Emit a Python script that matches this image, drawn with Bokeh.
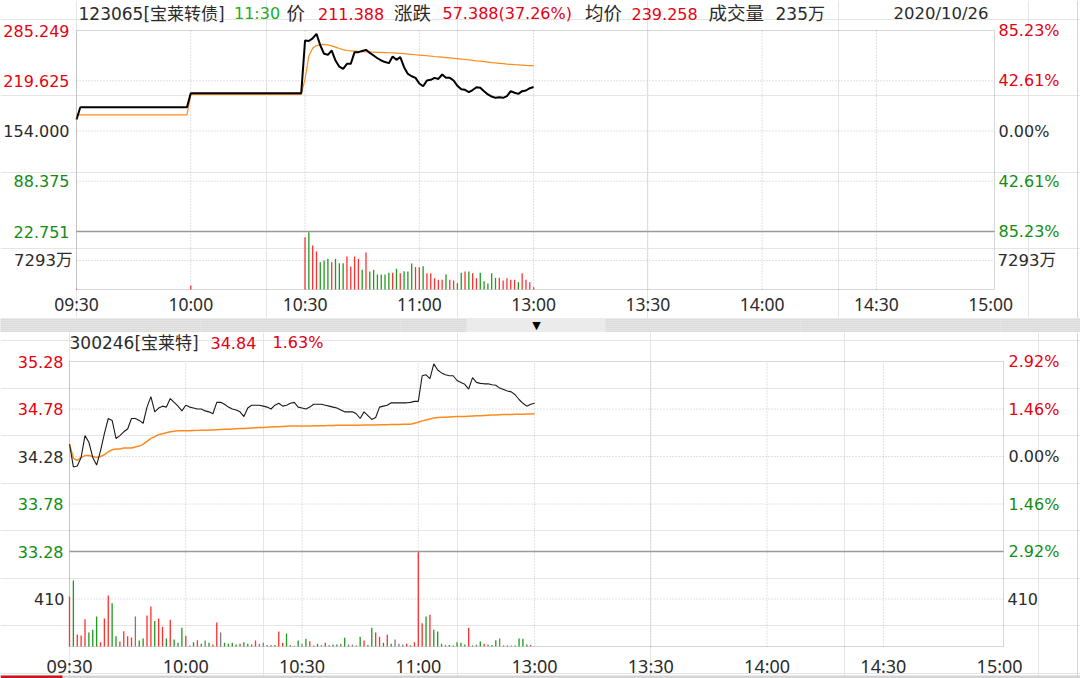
from bokeh.plotting import figure
from bokeh.models import Range1d, Span, Label, BoxAnnotation, ColumnDataSource
from bokeh.layouts import column
from bokeh.embed import file_html
from bokeh.resources import INLINE

# ---------------- data ----------------
time_labels = ["09:30", "10:00", "10:30", "11:00", "13:00", "13:30", "14:00", "14:30", "15:00"]
tick_minutes = [0, 30, 60, 90, 120, 150, 180, 210, 240]
grid_minutes = [30, 60, 90, 120, 150, 180, 210]
session_slots = 241

# convertible bond 123065
bond_code = "123065"
bond_name = "宝莱转债"
quote_time = "11:30"
bond_last = "211.388"
bond_change = "57.388(37.26%)"
bond_avg_last = "239.258"
bond_volume_total = "235万"
trade_date = "2020/10/26"
bond_prev_close = 154.000
bond_levels = [285.249, 219.625, 154.000, 88.375, 22.751]
bond_pcts = ["85.23%", "42.61%", "0.00%", "42.61%", "85.23%"]
bond_vol_tick = 7293
bond_vol_tick_label = "7293万"

bond_price = [
    169.0, 185.0, 185.0, 185.0, 185.0, 185.0, 185.0, 185.0, 185.0, 185.0,
    185.0, 185.0, 185.0, 185.0, 185.0, 185.0, 185.0, 185.0, 185.0, 185.0,
    185.0, 185.0, 185.0, 185.0, 185.0, 185.0, 185.0, 185.0, 185.0, 185.0,
    203.4, 203.4, 203.4, 203.4, 203.4, 203.4, 203.4, 203.4, 203.4, 203.4,
    203.4, 203.4, 203.4, 203.4, 203.4, 203.4, 203.4, 203.4, 203.4, 203.4,
    203.4, 203.4, 203.4, 203.4, 203.4, 203.4, 203.4, 203.4, 203.4, 203.4,
    272.2, 271.5, 275.0, 280.9, 266.0, 254.8, 253.5, 259.1, 246.0, 238.0,
    235.2, 241.7, 241.7, 257.0, 257.0, 258.5, 260.0, 256.0, 252.6, 249.0,
    246.1, 244.0, 242.6, 251.3, 246.9, 250.4, 237.4, 228.5, 225.5, 223.4,
    216.0, 212.5, 220.0, 220.8, 223.4, 222.0, 227.8, 223.4, 223.4, 220.0,
    213.0, 208.5, 207.8, 204.7, 207.5, 211.2, 210.5, 206.0, 201.7, 199.0,
    197.3, 198.0, 197.3, 199.5, 206.0, 204.0, 202.5, 206.0, 206.9, 209.9,
    211.388,
]
bond_avg = [
    175.0, 175.0, 175.0, 175.0, 175.0, 175.0, 175.0, 175.0, 175.0, 175.0,
    175.0, 175.0, 175.0, 175.0, 175.0, 175.0, 175.0, 175.0, 175.0, 175.0,
    175.0, 175.0, 175.0, 175.0, 175.0, 175.0, 175.0, 175.0, 175.0, 175.0,
    201.7, 201.7, 201.7, 201.7, 201.7, 201.7, 201.7, 201.7, 201.7, 201.7,
    201.7, 201.7, 201.7, 201.7, 201.7, 201.7, 201.7, 201.7, 201.7, 201.7,
    201.7, 201.7, 201.7, 201.7, 201.7, 201.7, 201.7, 201.7, 201.7, 201.7,
    222.0, 252.0, 262.0, 265.6, 266.8, 267.0, 266.4, 265.2, 263.5, 261.8,
    260.3, 259.1, 258.7, 258.3, 257.9, 257.6, 257.4, 257.2, 257.0, 256.8,
    256.6, 256.4, 256.2, 256.1, 255.8, 255.4, 255.0, 254.5, 254.0, 253.6,
    253.2, 252.7, 252.3, 251.8, 251.3, 250.9, 250.4, 249.9, 249.4, 248.9,
    248.4, 247.9, 247.4, 246.8, 246.3, 245.7, 245.2, 244.6, 244.0, 243.4,
    242.9, 242.4, 241.9, 241.4, 241.0, 240.6, 240.3, 240.0, 239.7, 239.5,
    239.258,
]
bond_vol = [
    200, 0, 0, 0, 0, 0, 0, 0, 0, 0,
    0, 0, 0, 0, 0, 0, 0, 0, 0, 0,
    0, 0, 0, 0, 0, 0, 0, 0, 0, 0,
    1000, 0, 0, 0, 0, 0, 0, 0, 0, 0,
    0, 0, 0, 0, 0, 0, 0, 0, 0, 0,
    0, 0, 0, 0, 0, 0, 0, 0, 0, 0,
    13150, 14400, 11070, 9560, 6870, 7290, 7710, 6870, 7710, 6620,
    6620, 8300, 5780, 8300, 7710, 4950, 9300, 4530, 4950, 3770,
    3770, 3770, 4190, 4190, 5200, 4110, 4610, 4530, 6540, 5620,
    5620, 5870, 4110, 4110, 2850, 2430, 2430, 3770, 2430, 2260,
    1590, 4190, 4530, 4530, 4110, 2850, 4190, 2100, 1510, 4110,
    2930, 2930, 2260, 2850, 2430, 2430, 1840, 4110, 2430, 1840,
    590,
]
bond_vol_dir = [
    "rnnnnnnnnn", "nnnnnnnnnn", "nnnnnnnnnn",
    "rnnnnnnnnn", "nnnnnnnnnn", "nnnnnnnnnn",
    "rgrrgggrgg", "grrrrgrggg", "gggrgrgggr",
    "rgrrrrrgrr", "ggrgrrgggg", "grrrrrgrrr", "r",
]

# stock 300246
stock_code = "300246"
stock_name = "宝莱特"
stock_last = "34.84"
stock_pct = "1.63%"
stock_prev_close = 34.28
stock_levels = [35.28, 34.78, 34.28, 33.78, 33.28]
stock_pcts = ["2.92%", "1.46%", "0.00%", "1.46%", "2.92%"]
stock_vol_tick = 410
stock_vol_tick_label = "410"

stock_price = [
    34.41, 34.17, 34.18, 34.27, 34.50, 34.43, 34.27, 34.19, 34.34, 34.52,
    34.68, 34.66, 34.47, 34.50, 34.54, 34.57, 34.68, 34.68, 34.66, 34.63,
    34.80, 34.91, 34.75, 34.79, 34.81, 34.80, 34.89, 34.85, 34.81, 34.76,
    34.82, 34.80, 34.79, 34.78, 34.78, 34.76, 34.75, 34.73, 34.85, 34.85,
    34.83, 34.80, 34.78, 34.77, 34.75, 34.70, 34.79, 34.82, 34.82, 34.82,
    34.81, 34.80, 34.78, 34.82, 34.84, 34.81, 34.82, 34.84, 34.85, 34.80,
    34.79, 34.78, 34.80, 34.83, 34.83, 34.83, 34.82, 34.81, 34.80, 34.79,
    34.77, 34.75, 34.75, 34.75, 34.73, 34.68, 34.75, 34.71, 34.67, 34.69,
    34.80, 34.81, 34.82, 34.845, 34.845, 34.845, 34.845, 34.845, 34.85, 34.86,
    34.86, 35.13, 35.14, 35.10, 35.255, 35.19, 35.16, 35.14, 35.13, 35.13,
    35.08, 35.06, 35.04, 34.99, 35.11, 35.06, 35.05, 35.045, 35.045, 35.035,
    35.03, 35.00, 34.985, 34.97, 34.96, 34.93, 34.88, 34.84, 34.81, 34.83,
    34.84,
]
stock_avg = [
    34.41, 34.26, 34.24, 34.27, 34.29, 34.29, 34.28, 34.27, 34.28, 34.30,
    34.33, 34.35, 34.36, 34.36, 34.37, 34.37, 34.37, 34.38, 34.39, 34.41,
    34.44, 34.47, 34.49, 34.51, 34.52, 34.53, 34.54, 34.545, 34.55, 34.55,
    34.55, 34.552, 34.554, 34.555, 34.556, 34.557, 34.558, 34.56, 34.562, 34.564,
    34.566, 34.568, 34.57, 34.572, 34.574, 34.576, 34.578, 34.58, 34.582, 34.584,
    34.586, 34.588, 34.59, 34.592, 34.594, 34.596, 34.598, 34.60, 34.60, 34.60,
    34.601, 34.602, 34.602, 34.603, 34.604, 34.605, 34.605, 34.606, 34.607, 34.608,
    34.608, 34.609, 34.61, 34.61, 34.61, 34.61, 34.611, 34.611, 34.612, 34.612,
    34.613, 34.614, 34.615, 34.616, 34.617, 34.618, 34.619, 34.62, 34.62, 34.63,
    34.64, 34.655, 34.665, 34.675, 34.685, 34.69, 34.692, 34.694, 34.696, 34.698,
    34.70, 34.701, 34.702, 34.704, 34.706, 34.708, 34.71, 34.712, 34.714, 34.716,
    34.718, 34.72, 34.721, 34.722, 34.723, 34.724, 34.725, 34.726, 34.727, 34.728,
    34.73,
]
stock_vol = [
    431, 570, 104, 95, 236, 121, 144, 259, 37, 242,
    440, 374, 89, 43, 132, 89, 78, 259, 52, 69,
    268, 345, 221, 242, 170, 69, 230, 60, 32, 161,
    92, 9, 37, 55, 23, 52, 32, 17, 207, 121,
    32, 23, 32, 17, 23, 37, 23, 17, 52, 23,
    32, 12, 12, 14, 129, 32, 112, 12, 6, 52,
    23, 66, 46, 9, 23, 12, 32, 12, 17, 17,
    23, 75, 17, 17, 9, 84, 52, 12, 161, 121,
    84, 32, 101, 23, 60, 23, 17, 23, 12, 37,
    814, 201, 259, 273, 144, 129, 23, 14, 14, 9,
    37, 32, 17, 161, 9, 17, 43, 23, 17, 14,
    55, 69, 9, 9, 9, 9, 69, 66, 17, 12,
]
stock_vol_dir = [
    "rgrrrgggrr", "rggrrrrngg", "rrgrrgrggg", "rrgrgngrrn",
    "ggggrggrrn", "nnngrrggng", "ngrngnrngg", "ngnnggrggr",
    "rgrgnnnrnr", "rrgrgggngg", "gggrgngrng", "gnggnggggr",
]

# ---------------- style ----------------
RED = "#e60012"
GREEN = "#128c12"
DARK = "#2b2b2b"
HEAD_GREEN = "#1fae1f"
ORANGE = "#ff8a1c"
GRID_C = "#c4c4c4"
FRAME_C = "#7a7a7a"
BAR_COLORS = {"r": "#ff3030", "g": "#1f9a1f", "n": "#7c7c7c"}
FONT = "DejaVu Sans, Noto Sans CJK SC"
AXFONT = "Noto Sans"
PAGE_W = 1080


def level_color(v, base):
    if abs(v - base) < 1e-9:
        return DARK
    return RED if v > base else GREEN


class Panel:
    """A full-canvas figure whose scales are chosen so the plot box sits at given page pixels."""

    def __init__(self, page_top, height, box, levels, vol_tick):
        self.page_top, self.height = page_top, height
        self.left, self.right, self.top, self.split, self.bottom = box
        self.levels, self.vol_tick = levels, vol_tick
        x_range = Range1d(self.xv(0), self.xv(PAGE_W))
        y_range = Range1d(self.pv(page_top + height), self.pv(page_top))
        self.p = figure(width=PAGE_W, height=height, x_range=x_range, y_range=y_range,
                        min_border=0, toolbar_location=None, output_backend="svg",
                        x_axis_location=None, y_axis_location=None)
        self.p.extra_y_ranges = {"vol": Range1d(self.vv(page_top + height), self.vv(page_top))}
        self.p.outline_line_color = None
        self.p.background_fill_color = "white"
        self.p.border_fill_color = "white"

    # page pixel -> data value
    def xv(self, px):
        return (px - self.left) * session_slots / (self.right - self.left)

    def pv(self, py):
        a, b = self.levels[0], self.levels[-1]
        return a - (py - self.top) * (a - b) / (self.split - self.top)

    def vv(self, py):
        return (self.bottom - py) * 2 * self.vol_tick / (self.bottom - self.split)

    def label(self, x, y, text, color, size="16px", align="left", rng="default", font=FONT):
        self.p.add_layout(Label(x=x, y=y, text=text, text_color=color, text_font=font,
                                text_font_size=size, text_align=align,
                                text_baseline="middle", y_range_name=rng))

    def frame(self):
        p = self.p
        y_low = self.pv(self.bottom)
        top = self.levels[0]
        n = len(grid_minutes)
        p.segment(x0=grid_minutes, x1=grid_minutes, y0=[y_low] * n, y1=[top] * n,
                  line_color=GRID_C, line_dash="1 2", line_width=1)
        mids = self.levels[1:4]
        p.segment(x0=[0] * len(mids), x1=[session_slots] * len(mids), y0=mids, y1=mids,
                  line_color=GRID_C, line_dash="1 2", line_width=1)
        p.segment(x0=[0], x1=[session_slots], y0=[self.vol_tick], y1=[self.vol_tick],
                  line_color=GRID_C, line_dash="1 2", line_width=1, y_range_name="vol")
        p.segment(x0=[0], x1=[session_slots], y0=[self.levels[-1]], y1=[self.levels[-1]],
                  line_color="#9a9a9a", line_width=1.6)
        p.add_layout(BoxAnnotation(left=0, right=session_slots, bottom=y_low, top=top,
                                   fill_color=None, fill_alpha=0, line_color=FRAME_C,
                                   line_width=1))


minutes = list(range(len(bond_price)))

# ---------------- top panel ----------------
T = Panel(0, 318, (76, 994, 30, 231, 289), bond_levels, bond_vol_tick)
p1 = T.p
T.frame()
src1 = ColumnDataSource(dict(t=minutes, price=bond_price, avg=bond_avg, vol=bond_vol,
                             color=[BAR_COLORS[d] for d in "".join(bond_vol_dir)]))
p1.vbar(x="t", top="vol", width=0.34, fill_color="color", line_color=None,
        source=src1, y_range_name="vol")
p1.line("t", "avg", source=src1, line_color=ORANGE, line_width=1.2)
p1.line("t", "price", source=src1, line_color="black", line_width=2)

for lv, pct in zip(bond_levels, bond_pcts):
    c = level_color(lv, bond_prev_close)
    T.label(T.xv(69), lv, f"{lv:.3f}", c, align="right")
    T.label(T.xv(998), lv, pct, c, align="left")
T.label(T.xv(72), bond_vol_tick, bond_vol_tick_label, DARK, size="16.5px", align="right", rng="vol")
T.label(T.xv(997), bond_vol_tick, bond_vol_tick_label, DARK, size="16.5px", align="left", rng="vol")
for t, lab in zip(tick_minutes, time_labels):
    T.label(t, T.pv(303.5), lab, DARK, size="17.5px", align="center", font=AXFONT)

header1 = [
    (f"{bond_code}[{bond_name}]", DARK, 78, "17px"),
    (quote_time, HEAD_GREEN, 233.5, "16px"),
    ("价", DARK, 286, "18.5px"),
    (bond_last, RED, 317.5, "16px"),
    ("涨跌", DARK, 393.5, "18.5px"),
    (bond_change, RED, 442, "16px"),
    ("均价", DARK, 584.5, "18.5px"),
    (bond_avg_last, RED, 631, "16px"),
    ("成交量", DARK, 708, "18.5px"),
    (bond_volume_total, DARK, 775, "17px"),
    (trade_date, DARK, 893, "16.5px"),
]
for txt, col, px, sz in header1:
    T.label(T.xv(px), T.pv(13), txt, col, size=sz)
p1.add_layout(Span(location=T.xv(1077), dimension="height", line_color="#d6d6d6", line_width=1))

# ---------------- separator ----------------
sep = figure(width=PAGE_W, height=14, x_range=Range1d(0, PAGE_W), y_range=Range1d(0, 14),
             min_border=0, toolbar_location=None, output_backend="svg",
             x_axis_location=None, y_axis_location=None)
sep.background_fill_color = "#dadada"
sep.border_fill_color = "#dadada"
sep.outline_line_color = None
sep.add_layout(BoxAnnotation(left=466, right=605, bottom=0, top=14, fill_color="#ebebeb",
                             fill_alpha=1, line_color=None))
sep.add_layout(Label(x=536, y=7, text="▼", text_align="center", text_baseline="middle",
                     text_font="DejaVu Sans", text_font_size="11px", text_color="black"))

# ---------------- bottom panel ----------------
B = Panel(332, 346, (69, 1003, 361, 551, 646), stock_levels, stock_vol_tick)
p2 = B.p
B.frame()
src2 = ColumnDataSource(dict(t=minutes, price=stock_price, avg=stock_avg))
src2v = ColumnDataSource(dict(t=list(range(len(stock_vol))), vol=stock_vol,
                              color=[BAR_COLORS[d] for d in "".join(stock_vol_dir)]))
p2.vbar(x="t", top="vol", width=0.34, fill_color="color", line_color=None,
        source=src2v, y_range_name="vol")
p2.line("t", "avg", source=src2, line_color=ORANGE, line_width=1.5)
p2.line("t", "price", source=src2, line_color="#1a1a1a", line_width=1.1)

for lv, pct in zip(stock_levels, stock_pcts):
    c = level_color(lv, stock_prev_close)
    B.label(B.xv(63), lv, f"{lv:.2f}", c, align="right")
    B.label(B.xv(1008), lv, pct, c, align="left")
B.label(B.xv(64), stock_vol_tick, stock_vol_tick_label, DARK, align="right", rng="vol")
B.label(B.xv(1007), stock_vol_tick, stock_vol_tick_label, DARK, align="left", rng="vol")
for t, lab in zip(tick_minutes, time_labels):
    B.label(t, B.pv(665), lab, DARK, size="18px", align="center", font=AXFONT)

header2 = [
    (f"{stock_code}[{stock_name}]", DARK, 69, "17px"),
    (stock_last, RED, 210, "16px"),
    (stock_pct, RED, 272, "16px"),
]
for txt, col, px, sz in header2:
    B.label(B.xv(px), B.pv(342), txt, col, size=sz)

# bottom tab strip and right edge line
p2.add_layout(BoxAnnotation(left=B.xv(0), right=B.xv(PAGE_W), bottom=B.pv(678), top=B.pv(675),
                            fill_color="#d4d4d4", fill_alpha=1, line_color=None))
p2.add_layout(BoxAnnotation(left=B.xv(0), right=B.xv(62), bottom=B.pv(678), top=B.pv(675),
                            fill_color="#c8161d", fill_alpha=1, line_color=None))
p2.add_layout(Span(location=B.xv(1077), dimension="height", line_color="#d6d6d6", line_width=1))

layout = column(p1, sep, p2, spacing=0)
open("out.html", "w").write(file_html(layout, INLINE, title="宝莱转债 分时"))
